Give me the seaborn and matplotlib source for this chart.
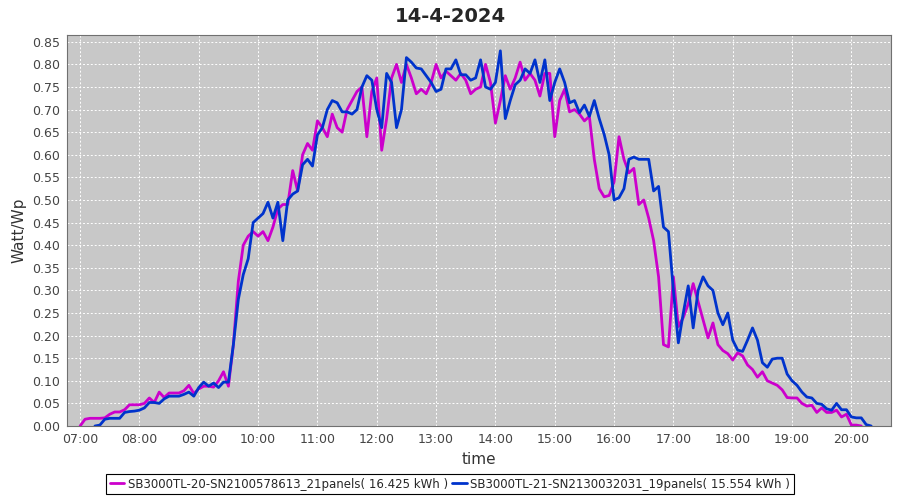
import numpy as np
import pandas as pd
import matplotlib
matplotlib.use('Agg')
import matplotlib.pyplot as plt
import seaborn as sns

name_a = 'SB3000TL-20-SN2100578613_21panels( 16.425 kWh )'
name_b = 'SB3000TL-21-SN2130032031_19panels( 15.554 kWh )'

# 5 minute samples, Watt/Wp
start_a = '07:00'
vals_a = [0.000, 0.015, 0.017, 0.017, 0.017, 0.018, 0.026, 0.031, 0.031, 0.036,
          0.047, 0.047, 0.047, 0.050, 0.062, 0.052, 0.075, 0.063, 0.073, 0.073,
          0.073, 0.078, 0.090, 0.072, 0.082, 0.088, 0.088, 0.086, 0.100, 0.120,
          0.088, 0.18, 0.32, 0.40, 0.42, 0.43, 0.42, 0.43, 0.41, 0.44,
          0.48, 0.49, 0.49, 0.565, 0.52, 0.60, 0.625, 0.61, 0.675, 0.66,
          0.64, 0.69, 0.66, 0.65, 0.70, 0.72, 0.74, 0.75, 0.64, 0.74,
          0.77, 0.61, 0.68, 0.77, 0.80, 0.76, 0.80, 0.77, 0.735, 0.745,
          0.735, 0.76, 0.80, 0.77, 0.785, 0.775, 0.765, 0.78, 0.765, 0.735,
          0.745, 0.75, 0.80, 0.76, 0.67, 0.72, 0.775, 0.745, 0.77, 0.805,
          0.765, 0.78, 0.765, 0.73, 0.78, 0.78, 0.64, 0.72, 0.745, 0.695,
          0.70, 0.69, 0.675, 0.685, 0.59, 0.525, 0.507, 0.51, 0.54, 0.64,
          0.59, 0.56, 0.57, 0.49, 0.50, 0.46, 0.41, 0.33, 0.18, 0.175,
          0.33, 0.22, 0.24, 0.27, 0.315, 0.275, 0.235, 0.195, 0.228, 0.18,
          0.167, 0.16, 0.146, 0.162, 0.155, 0.135, 0.125, 0.108, 0.12, 0.10,
          0.095, 0.09, 0.08, 0.063, 0.062, 0.062, 0.05, 0.044, 0.046, 0.03,
          0.04, 0.03, 0.03, 0.035, 0.02, 0.026, 0.002, 0.002, 0.0]

start_b = '07:15'
vals_b = [0.0, 0.002, 0.015, 0.017, 0.017, 0.017, 0.030, 0.032, 0.033, 0.035,
          0.040, 0.052, 0.052, 0.050, 0.060, 0.066, 0.066, 0.066, 0.070, 0.075,
          0.066, 0.085, 0.097, 0.088, 0.095, 0.085, 0.097, 0.097, 0.18, 0.28,
          0.335, 0.37, 0.45, 0.46, 0.47, 0.495, 0.46, 0.495, 0.41, 0.50,
          0.513, 0.52, 0.578, 0.59, 0.575, 0.644, 0.66, 0.70, 0.72, 0.715,
          0.695, 0.695, 0.69, 0.70, 0.75, 0.775, 0.765, 0.70, 0.66, 0.78,
          0.76, 0.66, 0.70, 0.815, 0.805, 0.792, 0.79, 0.775, 0.76, 0.74,
          0.745, 0.79, 0.79, 0.81, 0.777, 0.777, 0.765, 0.77, 0.81, 0.75,
          0.745, 0.76, 0.83, 0.68, 0.72, 0.755, 0.765, 0.79, 0.78, 0.81,
          0.76, 0.81, 0.72, 0.76, 0.79, 0.76, 0.715, 0.72, 0.693, 0.71,
          0.685, 0.72, 0.68, 0.645, 0.60, 0.50, 0.505, 0.525, 0.59, 0.595,
          0.59, 0.59, 0.59, 0.52, 0.53, 0.44, 0.43, 0.30, 0.184, 0.25,
          0.31, 0.217, 0.30, 0.33, 0.31, 0.30, 0.25, 0.224, 0.25, 0.19,
          0.168, 0.165, 0.19, 0.217, 0.19, 0.14, 0.13, 0.148, 0.15, 0.15,
          0.115, 0.10, 0.09, 0.075, 0.064, 0.062, 0.05, 0.048, 0.038, 0.035,
          0.05, 0.036, 0.036, 0.02, 0.018, 0.018, 0.003, 0.0]

hour_ticks = ['07:00', '08:00', '09:00', '10:00', '11:00', '12:00', '13:00',
              '14:00', '15:00', '16:00', '17:00', '18:00', '19:00', '20:00']


def to_hours(start, n):
    t = pd.date_range('2024-04-14 ' + start, periods=n, freq='5min')
    return t.hour + t.minute / 60.0


df = pd.concat([
    pd.DataFrame({'time': to_hours(start_a, len(vals_a)), 'val': vals_a, 'inv': name_a}),
    pd.DataFrame({'time': to_hours(start_b, len(vals_b)), 'val': vals_b, 'inv': name_b}),
])

sns.set_theme(style='darkgrid', rc={
    'axes.facecolor': '#c8c8c8',
    'grid.color': 'white',
    'grid.linestyle': (0, (2, 2)),
    'grid.linewidth': 0.7,
    'axes.edgecolor': '#707070',
})
plt.rcParams['font.family'] = ['DejaVu Sans']

fig = plt.figure(figsize=(9, 5), dpi=100)
ax = fig.add_axes([0.0745, 0.148, 0.915, 0.782])

pal = {name_a: '#cc00cc', name_b: '#0033cc'}
sns.lineplot(data=df, x='time', y='val', hue='inv', palette=pal, linewidth=2,
             ax=ax, legend=False)

ax.set_xlim(6.78, 20.66)
ax.set_ylim(0, 0.865)
ax.set_yticks(np.arange(0, 0.851, 0.05))
ax.set_yticklabels(['%.2f' % v for v in np.arange(0, 0.851, 0.05)])
ax.set_xticks([int(s[:2]) for s in hour_ticks])
ax.set_xticklabels(hour_ticks)
ax.tick_params(axis='both', labelsize=9, colors='#444444', length=3, width=0.6,
               direction='out', pad=2)
ax.tick_params(axis='both', color='#888888')
for s in ax.spines.values():
    s.set_visible(True)
    s.set_linewidth(0.8)

ax.set_xlabel('time', fontsize=11, color='#333333', labelpad=4)
ax.set_ylabel('Watt/Wp', fontsize=11, color='#333333', labelpad=4)
fig.suptitle('14-4-2024', fontsize=14, fontweight='bold', y=0.985)

handles = [plt.Line2D([], [], color=pal[name_a], lw=2),
           plt.Line2D([], [], color=pal[name_b], lw=2)]
leg = fig.legend(handles, [name_a, name_b], loc='lower center', ncol=2,
                 bbox_to_anchor=(0.5, 0.0), fontsize=8.5, frameon=True,
                 fancybox=False, edgecolor='black', facecolor='white',
                 framealpha=1, handlelength=1.2, handletextpad=0.3,
                 columnspacing=0.4, borderpad=0.3)
leg.get_frame().set_linewidth(0.8)

fig.savefig('out.png', dpi=100)
